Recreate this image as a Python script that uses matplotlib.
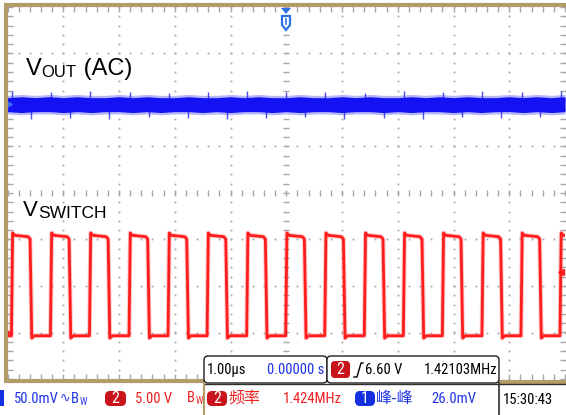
import os
import numpy as np
import matplotlib
matplotlib.use("Agg")
import matplotlib.pyplot as plt
from matplotlib import font_manager as fm
from matplotlib.patches import FancyBboxPatch, Rectangle, Polygon

W, H = 566, 415

# ---------------- data ----------------
time_div_us = 1.0           # 1.00 us / div
ch1_mV_div = 50.0           # CH1 50.0 mV / div, AC
ch2_V_div = 5.0             # CH2 5.00 V / div
ch1_offset_div = 1.91       # CH1 ground marker position (div)
ch2_offset_div = -3.01      # CH2 ground marker position (div)
trigger_level_V = 6.60

# CH2 (Vswitch) edges in us
ch2_rise_us = [-4.92, -4.22, -3.52, -2.81, -2.11, -1.41, -0.70, 0.00,
               0.70, 1.41, 2.11, 2.81, 3.52, 4.22, 4.92]
ch2_fall_us = [-4.58, -3.88, -3.18, -2.47, -1.77, -1.07, -0.36, 0.34,
               1.04, 1.75, 2.45, 3.15, 3.86, 4.56]
ch2_high_V = 10.5
ch2_low_V = -0.3

# CH1 (Vout AC) noise band envelope in mV
ch1_env_t_us = [-5.0, -4.75, -4.5, -4.25, -4.0, -3.75, -3.5, -3.25, -3.0, -2.75,
                -2.5, -2.25, -2.0, -1.75, -1.5, -1.25, -1.0, -0.75, -0.5, -0.25,
                0.0, 0.25, 0.5, 0.75, 1.0, 1.25, 1.5, 1.75, 2.0, 2.25,
                2.5, 2.75, 3.0, 3.25, 3.5, 3.75, 4.0, 4.25, 4.5, 4.75, 5.0]
ch1_env_hi_mV = [7, 8, 7, 8, 7, 8, 7, 7, 8, 7,
                 8, 7, 7, 8, 7, 7, 8, 7, 8, 7,
                 7, 8, 7, 7, 8, 7, 8, 7, 7, 8,
                 7, 8, 7, 8, 7, 7, 8, 7, 8, 7, 8]
ch1_env_lo_mV = [-8, -9, -8, -8, -9, -8, -9, -8, -8, -9,
                 -8, -9, -8, -8, -9, -8, -9, -8, -8, -9,
                 -8, -9, -8, -8, -9, -8, -8, -9, -8, -9,
                 -8, -8, -9, -8, -9, -8, -8, -9, -8, -9, -8]
ch1_spike_up_mV = [14, 13, 14, 13, 12, 13, 14, 13, 13, 12, 14, 13, 14, 13, 14]
ch1_spike_dn_mV = [-16, -15, -16, -14, -15, -16, -15, -14, -16, -15, -16, -14, -15, -14]

status_ch1 = "50.0mV"
status_ch2 = "5.00 V"
timebase_text = "1.00µs"
delay_text = "0.00000 s"
trig_text = "6.60 V"
trig_freq_text = "1.42103MHz"
meas1_name = "频率"
meas1_value = "1.424MHz"
meas2_name = "峰-峰"
meas2_value = "26.0mV"
clock_text = "15:30:43"
label_vout = ("V", "OUT", " (AC)")
label_vsw = ("V", "SWITCH")

# ---------------- style ----------------
BLUE = "#1212f2"
RED = "#ff1e1e"
TAN = "#b49b6a"
STAT_BLUE = "#2034e6"
STAT_RED = "#f02020"
BOX_RED = "#c8141a"
BOX_BLUE = "#1430e0"
GRID = "#a8a8a8"
CJK_FONT = ["Noto Sans CJK SC", "DejaVu Sans"]
LABEL_FONT = ["Liberation Sans", "DejaVu Sans"]

# pick a condensed face for the scope's narrow status font
def find_condensed():
    prefs = ["LiberationSansNarrow-Regular", "RobotoCondensed-Regular",
             "Roboto_Condensed-Regular", "OpenSans_Condensed-Regular",
             "OpenSansCondensed", "DejaVuSansCondensed."]
    files = [f.fname for f in fm.fontManager.ttflist]
    for p in prefs:
        for fn in files:
            if p in os.path.basename(fn):
                return fn, p
    return None, None

_cf, _cname = find_condensed()
if _cf:
    COND = fm.FontProperties(fname=_cf)
    STAT_FS = 10.5
else:
    COND = fm.FontProperties(family=["DejaVu Sans"])
    STAT_FS = 9.0

def cfp(fs=None):
    fp = COND.copy()
    fp.set_size(fs if fs else STAT_FS)
    return fp

def stext(x, y, s, color, fs=None, ha="left", va="center"):
    return ov.text(x, y, s, fontproperties=cfp(fs), color=color, ha=ha, va=va, zorder=6)

def chain(prev, s, color, dx=1.0, dy=0.0, fs=None, family=None):
    kw = dict(fontproperties=cfp(fs)) if family is None else dict(family=family, fontsize=fs)
    return ov.annotate(s, xy=(1, 0.5), xycoords=prev, xytext=(dx, -dy),
                       textcoords="offset pixels", ha="left", va="center",
                       color=color, zorder=6, **kw)

fig = plt.figure(figsize=(W / 100, H / 100), dpi=100)
fig.patch.set_facecolor("white")

# screen area in pixels
SX0, SX1, SY0, SY1 = 7.5, 565.0, 7.0, 379.0
ax = fig.add_axes([SX0 / W, 1 - SY1 / H, (SX1 - SX0) / W, (SY1 - SY0) / H])
ax.set_xlim(-5, 5)
ax.set_ylim(-4, 4)
ax.axis("off")

# graticule dots
sub = np.arange(-5, 5.001, 0.2)
suby = np.arange(-4, 4.001, 0.2)
for gx in range(-4, 5):
    if gx == 0:
        continue
    ax.plot(np.full_like(suby, gx), suby, ls="none", marker="s", ms=1.3,
            mfc=GRID, mec="none", zorder=1)
for gy in range(-3, 4):
    if gy == 0:
        continue
    ax.plot(sub, np.full_like(sub, gy), ls="none", marker="s", ms=1.3,
            mfc=GRID, mec="none", zorder=1)
ax.plot(sub, np.zeros_like(sub), ls="none", marker="|", ms=4, mew=1.0, mec=GRID, zorder=1)
ax.plot(np.zeros_like(suby), suby, ls="none", marker="_", ms=5, mew=1.0, mec=GRID, zorder=1)
ax.plot(sub, np.full_like(sub, 3.95), ls="none", marker="|", ms=4, mew=1.0, mec=GRID)
ax.plot(sub, np.full_like(sub, -3.95), ls="none", marker="|", ms=4, mew=1.0, mec=GRID)
ax.plot(np.full_like(suby, -4.96), suby, ls="none", marker="_", ms=4, mew=1.0, mec=GRID)
ax.plot(np.full_like(suby, 4.96), suby, ls="none", marker="_", ms=4, mew=1.0, mec=GRID)

# ---- CH1 trace (noise band + switching spikes) ----
t_env = np.array(ch1_env_t_us) / time_div_us
hi = ch1_offset_div + np.array(ch1_env_hi_mV) / ch1_mV_div
lo = ch1_offset_div + np.array(ch1_env_lo_mV) / ch1_mV_div
ax.fill_between(t_env, lo - 0.05, hi + 0.05, color=BLUE, alpha=0.3, lw=0, zorder=3)
ax.fill_between(t_env, lo, hi, color=BLUE, lw=0, zorder=3)
ax.vlines(ch2_rise_us, ch1_offset_div,
          ch1_offset_div + np.array(ch1_spike_up_mV) / ch1_mV_div,
          color=BLUE, lw=1.0, alpha=0.75, zorder=3)
ax.vlines(ch2_fall_us, ch1_offset_div + np.array(ch1_spike_dn_mV) / ch1_mV_div,
          ch1_offset_div, color=BLUE, lw=1.0, alpha=0.75, zorder=3)

# ---- CH2 trace (square wave) ----
hiD = ch2_offset_div + ch2_high_V / ch2_V_div
loD = ch2_offset_div + ch2_low_V / ch2_V_div
tt = [-5.0]
vv = [loD]
for i, r in enumerate(ch2_rise_us):
    tt += [r - 0.01, r + 0.012, r + 0.05]
    vv += [loD, hiD + 0.05, hiD]
    if i < len(ch2_fall_us):
        f = ch2_fall_us[i]
        tt += [f - 0.05, f - 0.015, f + 0.015, f + 0.06]
        vv += [hiD - 0.03, hiD - 0.08, loD - 0.05, loD]
tt.append(5.0)
vv.append(hiD)
ax.plot(tt, vv, color=RED, lw=3.4, alpha=0.25, zorder=4, solid_joinstyle="round")
ax.plot(tt, vv, color=RED, lw=2.0, zorder=4, solid_joinstyle="round")

# channel markers
ax.plot([-4.97], [ch1_offset_div], marker=">", ms=4, color="#3a6ef0", clip_on=False, zorder=6)
ax.plot([-4.97], [ch2_offset_div], marker=">", ms=4, color=RED, clip_on=False, zorder=6)
ax.plot([4.93], [ch2_offset_div + trigger_level_V / ch2_V_div], marker="<", ms=5,
        color=RED, clip_on=False, zorder=6)

# ---- overlay in pixel coordinates ----
ov = fig.add_axes([0, 0, 1, 1])
ov.set_xlim(0, W)
ov.set_ylim(H, 0)
ov.axis("off")
ov.patch.set_alpha(0)

def small_caps(x, y, parts, big, small):
    t = ov.text(x, y, parts[0], fontsize=big, family=LABEL_FONT, va="baseline", ha="left")
    prev = t
    for k, p in enumerate(parts[1:]):
        fs = small if k == 0 else big
        prev = ov.annotate(p, xy=(1, 0), xycoords=prev, fontsize=fs, family=LABEL_FONT,
                           va="bottom", ha="left")
    return t

small_caps(26, 75, label_vout, 17, 12)
small_caps(23, 216, label_vsw, 16, 12.5)

# border
ov.plot([4, 566], [5.5, 5.5], color=TAN, lw=3, solid_capstyle="butt")
ov.plot([5.5, 5.5], [4, 381], color=TAN, lw=3, solid_capstyle="butt")
ov.plot([4, 205], [380.5, 380.5], color=TAN, lw=3, solid_capstyle="butt")
ov.plot([499, 566], [381.5, 381.5], color=TAN, lw=3, solid_capstyle="butt")

# trigger position marker
ov.add_patch(Polygon([(281, 8), (291, 8), (286, 14)], closed=True, color="#2f72e8", lw=0))
ov.add_patch(Polygon([(282, 16), (290, 16), (290, 25), (286, 30), (282, 25)], closed=True,
                     fc="white", ec="#2f72e8", lw=1.6))
ov.plot([286, 286], [19, 24], color="#2f72e8", lw=1.2)

def rbox(x0, y0, x1, y1, fc, ec="none", lw=1.0, r=3):
    ov.add_patch(FancyBboxPatch((x0, y0), x1 - x0, y1 - y0,
                                boxstyle=f"round,pad=0,rounding_size={r}",
                                fc=fc, ec=ec, lw=lw, zorder=5))

# upper info boxes
rbox(204, 356, 327, 383, "white", "#202020", 1.0, 4)
rbox(327, 356, 499, 383, "white", "#202020", 1.0, 4)
stext(207, 370, timebase_text, "black")
stext(324, 370, delay_text, STAT_BLUE, ha="right")
rbox(331, 361, 350, 378, BOX_RED, r=4)
stext(340.5, 369.5, "2", "white", fs=STAT_FS + 1, ha="center")
ov.plot([354, 357, 361, 363], [377, 377, 363, 363], color="black", lw=1.0, zorder=6)
stext(365, 370, trig_text, "black")
stext(497, 370, trig_freq_text, "black", ha="right")

# status row
ov.plot([204, 566], [383.5, 383.5], color="#303030", lw=1.0, zorder=5)
ov.plot([203.5, 203.5], [383, 415], color=TAN, lw=1.5, zorder=5)
ov.plot([499, 499], [383, 415], color="#303030", lw=1.2, zorder=5)
ov.add_patch(Rectangle((0, 390), 3.5, 16, fc=BOX_BLUE, ec="none", zorder=5))
t1 = stext(14, 398.5, status_ch1, STAT_BLUE)
t2 = chain(t1, "∿", STAT_BLUE, dx=1, fs=9, family=["DejaVu Sans"])
t3 = chain(t2, "B", STAT_BLUE, dx=1)
chain(t3, "W", STAT_BLUE, dx=0.5, dy=3.5, fs=7)
rbox(105, 391, 126, 406, BOX_RED, r=5)
stext(115.5, 398.5, "2", "white", fs=STAT_FS + 1, ha="center")
stext(135, 398.5, status_ch2, STAT_RED)
t4 = stext(187, 397.5, "B", STAT_RED)
chain(t4, "W", STAT_RED, dx=0.5, dy=3.5, fs=7)
rbox(207, 391, 227, 406, BOX_RED, r=5)
stext(217, 398.5, "2", "white", fs=STAT_FS + 1, ha="center")
ov.text(228, 398.5, meas1_name, fontsize=11.5, family=CJK_FONT, va="center", ha="left",
        color=STAT_RED, zorder=6)
stext(283, 398.5, meas1_value, STAT_RED)
rbox(355, 391, 375, 406, BOX_BLUE, r=5)
stext(365, 398.5, "1", "white", fs=STAT_FS + 1, ha="center")
ov.text(376, 398.5, meas2_name, fontsize=11.5, family=CJK_FONT, va="center", ha="left",
        color=STAT_BLUE, zorder=6)
stext(431, 398.5, meas2_value, STAT_BLUE)
stext(503, 400, clock_text, "black")

fig.savefig("out.png", dpi=100, facecolor="white")
